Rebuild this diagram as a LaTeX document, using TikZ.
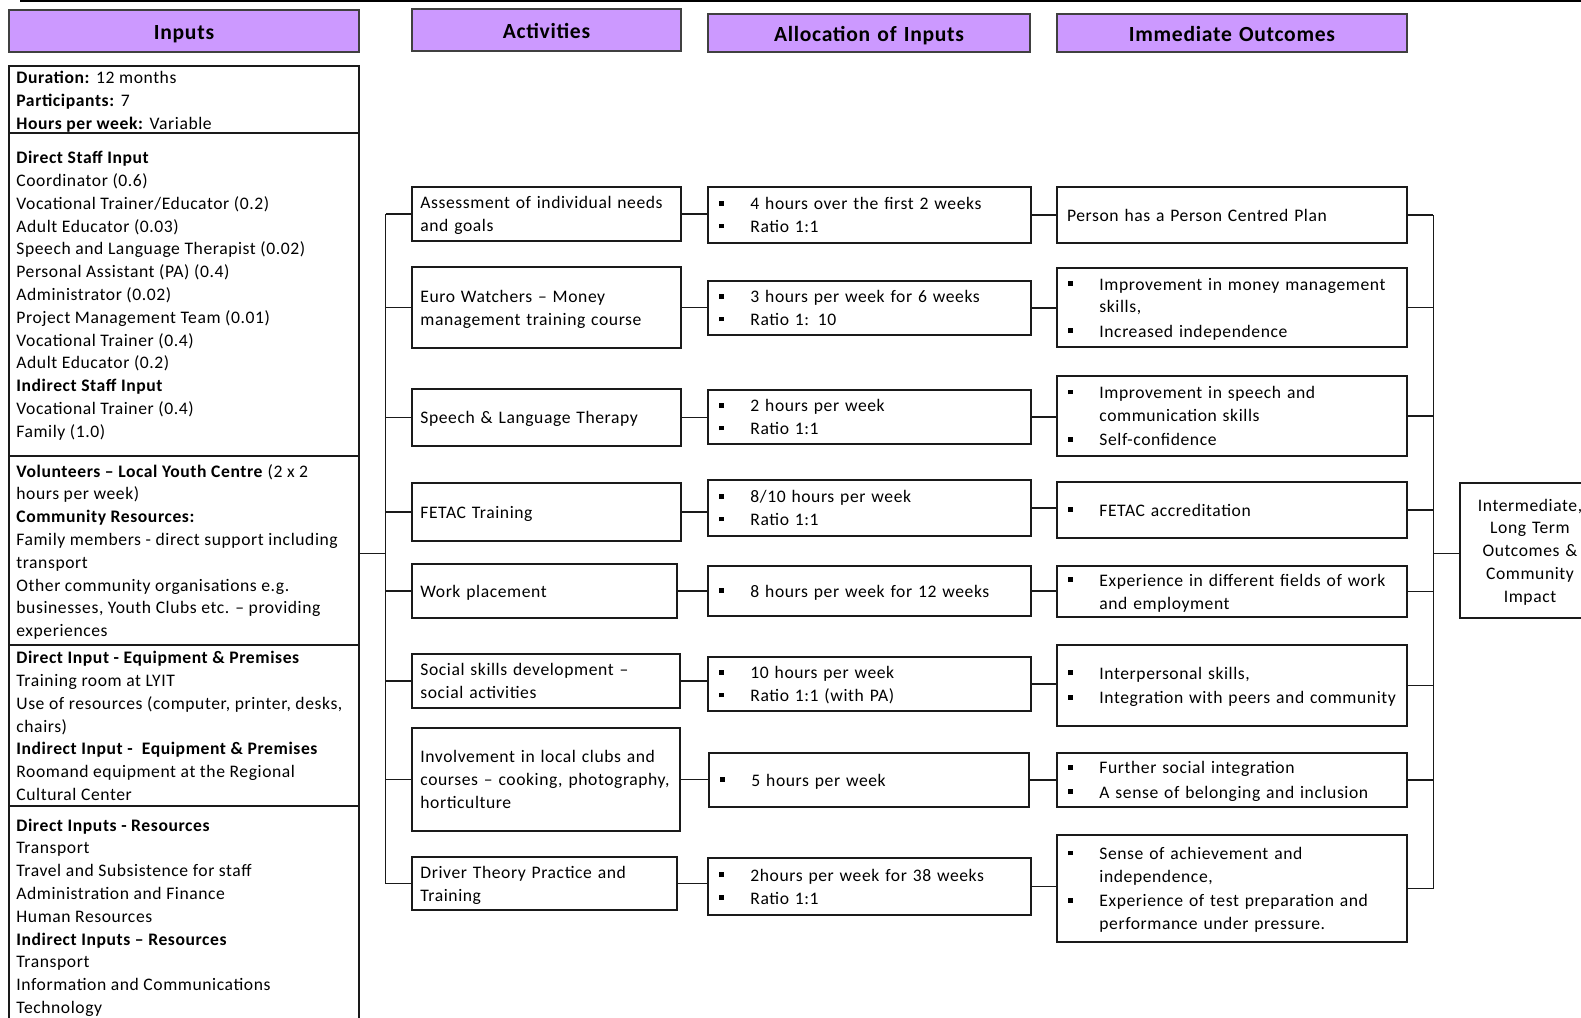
\documentclass[tikz,border=0pt]{standalone}
\usepackage{fontspec}
\setmainfont[LetterSpace=3.3]{Carlito}
\usetikzlibrary{calc}

\definecolor{hdrfill}{HTML}{CC99FF}
\definecolor{inkline}{HTML}{1A1A1A}

\newcommand{\bodyfont}{\fontsize{8.8}{11.4}\selectfont}
\newcommand{\hdrfont}{\fontsize{10.8}{13}\selectfont\bfseries}
% square bullet and the indent of a wrapped bullet line
\newcommand{\bul}{\makebox[17pt][l]{\hspace{1.4pt}\rule[2.1pt]{2.4pt}{2.4pt}}}
\newcommand{\cont}{\hspace*{17pt}}
% struts that set where text sits inside the boxes
\newcommand{\topstrut}{\rule[-3.42pt]{0pt}{13pt}}
\newcommand{\hdrstrut}{\rule[-3pt]{0pt}{15pt}}

\tikzset{
  cell/.style={draw=inkline, line width=0.65pt, inner xsep=4.2pt, inner ysep=0pt,
    align=left, font=\bodyfont, text=black,
    execute at begin node=\topstrut, execute at end node=\strut},
  hdr/.style={fill=hdrfill, draw=black!75, align=center, font=\hdrfont,
    execute at begin node=\hdrstrut, execute at end node=\hdrstrut},
  mid/.style={align=center},
  conn/.style={draw=inkline, line width=0.65pt},
  intext/.style={anchor=north west, inner sep=0pt, align=left, font=\bodyfont},
}

% box given by its corners in pixel units: [options]{name}{x1}{y1}{x2}{y2}{text}
\newcommand{\pbox}[7][]{%
  \pgfmathsetmacro\pbw{(#5-#3)*0.5}%
  \pgfmathsetmacro\pbh{(#6-#4)*0.5}%
  \pgfmathsetmacro\pbt{(#5-#3)*0.5-8.4}%
  \node[cell, minimum width=\pbw pt, minimum height=\pbh pt, text width=\pbt pt, #1]
    (#2) at ({(#3+#5)/2},{(#4+#6)/2}) {#7};%
}

\begin{document}
\begin{tikzpicture}[x=0.5pt, y=-0.5pt]
\useasboundingbox (0,0) rectangle (1581,1018);
\clip (0,0) rectangle (1581,1018);

% rule along the top edge
\coordinate (topL) at (20,0.8);
\coordinate (topR) at (1581,0.8);
\draw[line width=0.8pt] (topL) -- (topR);

% column headers
\pbox[hdr]{h1}{9}{10}{359}{52}{Inputs}
\pbox[hdr]{h2}{412}{9}{681}{51}{Activities}
\pbox[hdr]{h3}{708}{14}{1030}{52}{Allocation of Inputs}
\pbox[hdr]{h4}{1057}{14}{1407}{52}{Immediate Outcomes}

% inputs column
\pbox{inbox}{9}{66}{359}{1040}{}
\foreach \yy in {133,456,645,806}
  \draw[conn] (inbox.west |- 0,\yy) -- (inbox.east |- 0,\yy);

\node[intext] (s1) at (16,67.3) {\rule{0pt}{8pt}\textbf{Duration:} 12 months\\
\textbf{Participants:} 7\\
\textbf{Hours per week:} Variable};

\node[intext] (s2) at (16,147.3) {\rule{0pt}{8pt}\textbf{Direct Staff Input}\\
Coordinator (0.6)\\
Vocational Trainer/Educator (0.2)\\
Adult Educator (0.03)\\
Speech and Language Therapist (0.02)\\
Personal Assistant (PA) (0.4)\\
Administrator (0.02)\\
Project Management Team (0.01)\\
Vocational Trainer (0.4)\\
Adult Educator (0.2)\\
\textbf{Indirect Staff Input}\\
Vocational Trainer (0.4)\\
Family (1.0)};

\node[intext] (s3) at (16,460.7) {\rule{0pt}{8pt}\textbf{Volunteers – Local Youth Centre} (2 x 2\\
hours per week)\\
\textbf{Community Resources:}\\
Family members - direct support including\\
transport\\
Other community organisations e.g.\\
businesses, Youth Clubs etc. – providing\\
experiences};

\node[intext] (s4) at (16,647.3) {\rule{0pt}{8pt}\textbf{Direct Input - Equipment \& Premises}\\
Training room at LYIT\\
Use of resources (computer, printer, desks,\\
chairs)\\
\textbf{Indirect Input -\ \ Equipment \& Premises}\\
Roomand equipment at the Regional\\
Cultural Center};

\node[intext] (s5) at (16,814.7) {\rule{0pt}{8pt}\textbf{Direct Inputs - Resources}\\
Transport\\
Travel and Subsistence for staff\\
Administration and Finance\\
Human Resources\\
\textbf{Indirect Inputs – Resources}\\
Transport\\
Information and Communications\\
Technology};

% activities
\pbox{a1}{412}{187}{681}{241}{Assessment of individual needs\\and goals}
\pbox{a2}{412}{267}{681}{348}{Euro Watchers – Money\\management training course}
\pbox{a3}{412}{389}{681}{446}{Speech \& Language Therapy}
\pbox{a4}{412}{483}{681}{541}{FETAC Training}
\pbox{a5}{412}{564}{677}{618}{Work placement}
\pbox{a6}{412}{654}{680}{708}{Social skills development –\\social activities}
\pbox{a7}{412}{728}{680}{831}{Involvement in local clubs and\\courses – cooking, photography,\\horticulture}
\pbox{a8}{412}{857}{677}{910}{Driver Theory Practice and\\Training}

% allocation of inputs
\pbox{b1}{708}{187}{1031}{243}{\bul 4 hours over the first 2 weeks\\\bul Ratio 1:1}
\pbox{b2}{708}{281}{1031}{335}{\bul 3 hours per week for 6 weeks\\\bul Ratio 1: 10}
\pbox{b3}{708}{390}{1031}{444}{\bul 2 hours per week\\\bul Ratio 1:1}
\pbox{b4}{708}{480}{1031}{536}{\bul 8/10 hours per week\\\bul Ratio 1:1}
\pbox{b5}{708}{566}{1031}{616}{\bul 8 hours per week for 12 weeks}
\pbox{b6}{708}{657}{1031}{711}{\bul 10 hours per week\\\bul Ratio 1:1 (with PA)}
\pbox{b7}{709}{753}{1029}{807}{\bul 5 hours per week}
\pbox{b8}{708}{858}{1031}{915}{\bul 2hours per week for 38 weeks\\\bul Ratio 1:1}

% immediate outcomes
\pbox{o1}{1057}{187}{1407}{243}{\hspace{0.8pt}Person has a Person Centred Plan}
\pbox{o2}{1057}{268}{1407}{347}{\bul Improvement in money management\\\cont skills,\\[0.8pt]\bul Increased independence}
\pbox{o3}{1057}{376}{1407}{456}{\bul Improvement in speech and\\\cont communication skills\\[0.8pt]\bul Self-confidence}
\pbox{o4}{1057}{482}{1407}{538}{\bul FETAC accreditation}
\pbox{o5}{1057}{566}{1407}{617}{\bul Experience in different fields of work\\\cont and employment}
\pbox{o6}{1057}{645}{1407}{726}{\bul Interpersonal skills,\\[0.8pt]\bul Integration with peers and community}
\pbox{o7}{1057}{753}{1407}{807}{\bul Further social integration\\[0.8pt]\bul A sense of belonging and inclusion}
\pbox{o8}{1057}{835}{1407}{942}{\bul Sense of achievement and\\\cont independence,\\[0.8pt]\bul Experience of test preparation and\\\cont performance under pressure.}

% longer-term box
\pbox[mid]{rt}{1460}{483}{1600}{618}{Intermediate,\\Long Term\\Outcomes \&\\Community\\Impact}

% left bus: inputs to activities
\coordinate (lbus) at (385.7,553.3);
\draw[conn] (inbox.east |- lbus) -- (lbus);
\draw[conn] (lbus |- a1.west) -- (lbus |- a8.west);
\foreach \i in {1,...,8}
  \draw[conn] (lbus |- a\i.west) -- (a\i.west);

% activities to allocation, allocation to outcomes
\foreach \i in {1,...,8} {
  \draw[conn] (a\i.east) -- (a\i.east -| b\i.west);
  \draw[conn] (b\i.east) -- (b\i.east -| o\i.west);
}

% right bus: outcomes to longer-term box
\coordinate (rbus) at (1433.3,553.3);
\draw[conn] (rbus |- o1.east) -- (rbus |- o8.east);
\foreach \i in {1,...,8}
  \draw[conn] (o\i.east) -- (rbus |- o\i.east);
\draw[conn] (rbus) -- (rbus -| rt.west);

\end{tikzpicture}
\end{document}
